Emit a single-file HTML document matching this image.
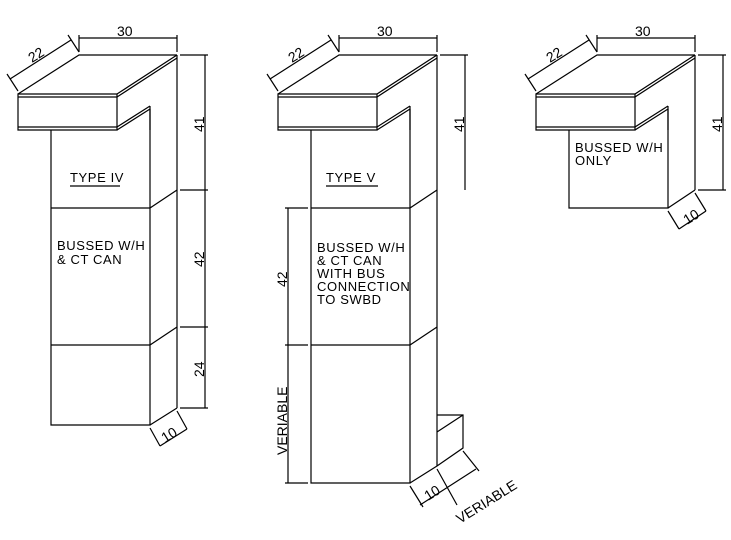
<!DOCTYPE html>
<html><head><style>body{margin:0;background:#fff}svg{display:block}text{font-family:"Liberation Sans",sans-serif;font-size:13px;letter-spacing:0.6px;fill:#000}.d{font-size:14px;letter-spacing:0}</style></head><body>
<svg width="731" height="540" viewBox="0 0 731 540" xmlns="http://www.w3.org/2000/svg" stroke="#000" stroke-width="1.2" fill="none">
<defs>
<g id="top">
<path d="M18 94H117V130H18Z M18 97H117 M18 127H117"/>
<path d="M18 94L79 55H177 M117 94L177 55 M117 97L177 58"/>
<path d="M117 127L150 106 M117 130L150 109 M150 106V130"/>
<path d="M79 52V35 M177 52V35 M79 38H177"/>
<path d="M18 91L7 74 M79 52L68 35 M10 79L71 40"/>
<path d="M180 55H208 M205 55V190"/>
</g>
</defs>
<use href="#top"/>
<g>
<path d="M51 130V425H150V109 M51 208H150L177 190 M51 345H150L177 327 M150 425L177 408 M177 55V408"/>
<path d="M180 190H208 M205 190V327 M180 327H208 M205 327V408 M180 408H208"/>
<path d="M150 428L160 446 M177 411L187 429 M160 446L187 429"/>
<path d="M70 186H120"/>
</g>
<g stroke="none" fill="#000">
<text class="d" x="117" y="36">30</text>
<text class="d" transform="translate(32,63) rotate(-32)">22</text>
<text class="d" transform="translate(204,132) rotate(-90)">41</text>
<text class="d" transform="translate(204,267) rotate(-90)">42</text>
<text class="d" transform="translate(204,377) rotate(-90)">24</text>
<text class="d" transform="translate(165,443) rotate(-32)">10</text>
<text x="70" y="182">TYPE IV</text>
<text x="57" y="250">BUSSED W/H</text>
<text x="57" y="264">&amp; CT CAN</text>
</g>
<use href="#top" x="260"/>
<path d="M311 130V483H410V109 M311 208H410L437 190 M311 345H410L437 327 M410 483L437 466 M437 55V466 M437 415H463V448L437 466 M437 432L463 415"/>
<path d="M285 208H308 M288 208V483 M285 345H308 M285 483H308"/>
<path d="M410 486L423 507 M437 469L447 487 M463 451L479 471 M420 505L476 469 M447 487L457 505"/>
<path d="M326 186H378"/>
<g stroke="none" fill="#000">
<text class="d" x="377" y="36">30</text>
<text class="d" transform="translate(292,63) rotate(-32)">22</text>
<text class="d" transform="translate(464,132) rotate(-90)">41</text>
<text class="d" transform="translate(287,287) rotate(-90)">42</text>
<text class="d" transform="translate(287,455) rotate(-90)">VERIABLE</text>
<text class="d" transform="translate(428,501) rotate(-32)">10</text>
<text class="d" transform="translate(460,524) rotate(-32)">VERIABLE</text>
<text x="326" y="182">TYPE V</text>
<text x="317" y="252">BUSSED W/H</text>
<text x="317" y="265">&amp; CT CAN</text>
<text x="317" y="278">WITH BUS</text>
<text x="317" y="291">CONNECTION</text>
<text x="317" y="304">TO SWBD</text>
</g>
<use href="#top" x="518"/>
<path d="M569 130V208H668V109 M668 208L695 190 M695 55V190 M698 190H726 M668 211L679 229 M695 193L706 211 M679 229L706 211"/>
<g stroke="none" fill="#000">
<text class="d" x="635" y="36">30</text>
<text class="d" transform="translate(550,63) rotate(-32)">22</text>
<text class="d" transform="translate(722,132) rotate(-90)">41</text>
<text class="d" transform="translate(687,225) rotate(-32)">10</text>
<text x="575" y="152">BUSSED W/H</text>
<text x="575" y="165">ONLY</text>
</g>
</svg>
</body></html>
